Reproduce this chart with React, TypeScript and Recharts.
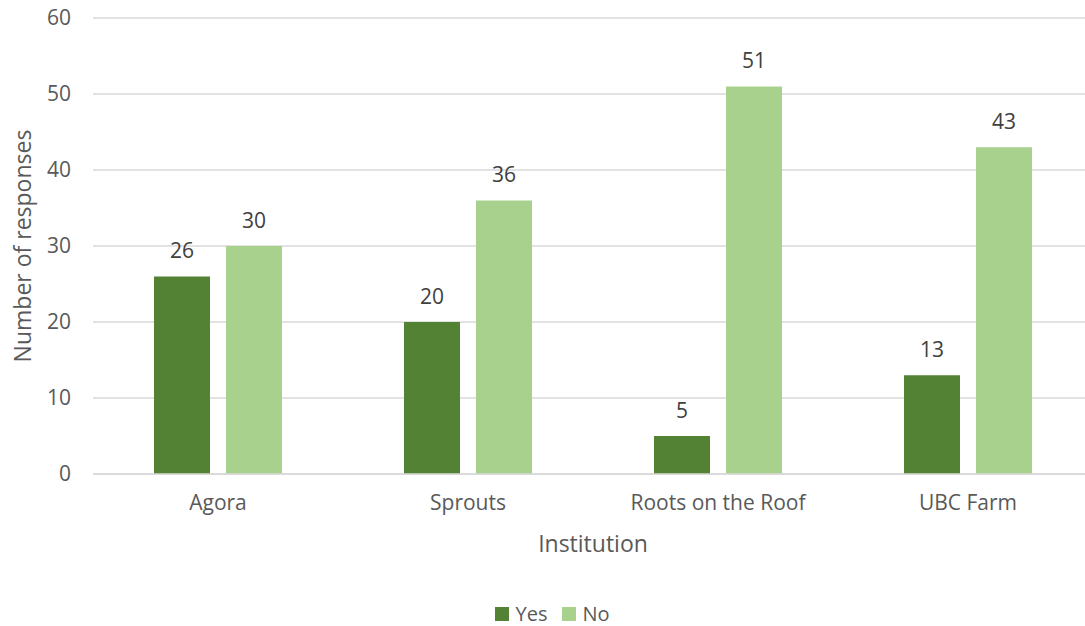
import React from "react";
import { BarChart, Bar, XAxis, YAxis, CartesianGrid, Legend, LabelList, Label } from "recharts";

const categories = ["Agora", "Sprouts", "Roots on the Roof", "UBC Farm"];
const yesValues = [26, 20, 5, 13];
const noValues = [30, 36, 51, 43];
const yTicks = [0, 10, 20, 30, 40, 50, 60];

const data = categories.map((name, i) => ({ name, Yes: yesValues[i], No: noValues[i] }));

const FONT = "'Open Sans', sans-serif";
const TEXT = "#595959";
const DARK = "#548235";
const LIGHT = "#A9D18E";

const LegendContent = () => (
  <div style={{ display: "flex", justifyContent: "center", alignItems: "center", fontFamily: FONT, fontSize: 20, color: TEXT, paddingLeft: 20 }}>
    <span style={{ display: "inline-block", width: 14, height: 14, background: DARK, marginRight: 6 }} />
    <span style={{ marginRight: 15 }}>Yes</span>
    <span style={{ display: "inline-block", width: 14, height: 14, background: LIGHT, marginRight: 6 }} />
    <span>No</span>
  </div>
);

export default function App() {
  return (
    <div style={{ position: "absolute", left: 0, top: 0, width: 1085, height: 626, background: "#fff", overflow: "hidden" }}>
      <BarChart
        width={1085}
        height={626}
        data={data}
        margin={{ top: 18, right: -8, left: 0, bottom: 62 }}
        barCategoryGap="24.4%"
        barGap={16}
        style={{ overflow: "hidden" }}
      >
        <CartesianGrid vertical={false} stroke="#D9D9D9" strokeWidth={1.5} />
        <XAxis
          dataKey="name"
          height={90}
          axisLine={{ stroke: "#D9D9D9", strokeWidth: 1.5 }}
          tickLine={false}
          tickSize={0}
          tickMargin={21}
          tick={{ fill: TEXT, fontSize: 21, fontFamily: FONT }}
        >
          <Label value="Institution" position="insideBottom" offset={12} fill={TEXT} fontSize={23} fontFamily={FONT} />
        </XAxis>
        <YAxis
          width={93}
          domain={[0, 60]}
          ticks={yTicks}
          axisLine={false}
          tickLine={false}
          tickSize={0}
          tickMargin={22}
          tick={{ fill: TEXT, fontSize: 21, fontFamily: FONT }}
        >
          <Label value="Number of responses" angle={-90} position="center" dx={-24} fill={TEXT} fontSize={23} fontFamily={FONT} />
        </YAxis>
        <Legend verticalAlign="middle" content={<LegendContent />} wrapperStyle={{ top: 600, left: 0, width: 1085 }} />
        <Bar dataKey="Yes" fill={DARK} isAnimationActive={false}>
          <LabelList dataKey="Yes" position="top" offset={18} fill="#404040" fontSize={21} fontFamily={FONT} />
        </Bar>
        <Bar dataKey="No" fill={LIGHT} isAnimationActive={false}>
          <LabelList dataKey="No" position="top" offset={18} fill="#404040" fontSize={21} fontFamily={FONT} />
        </Bar>
      </BarChart>
    </div>
  );
}
